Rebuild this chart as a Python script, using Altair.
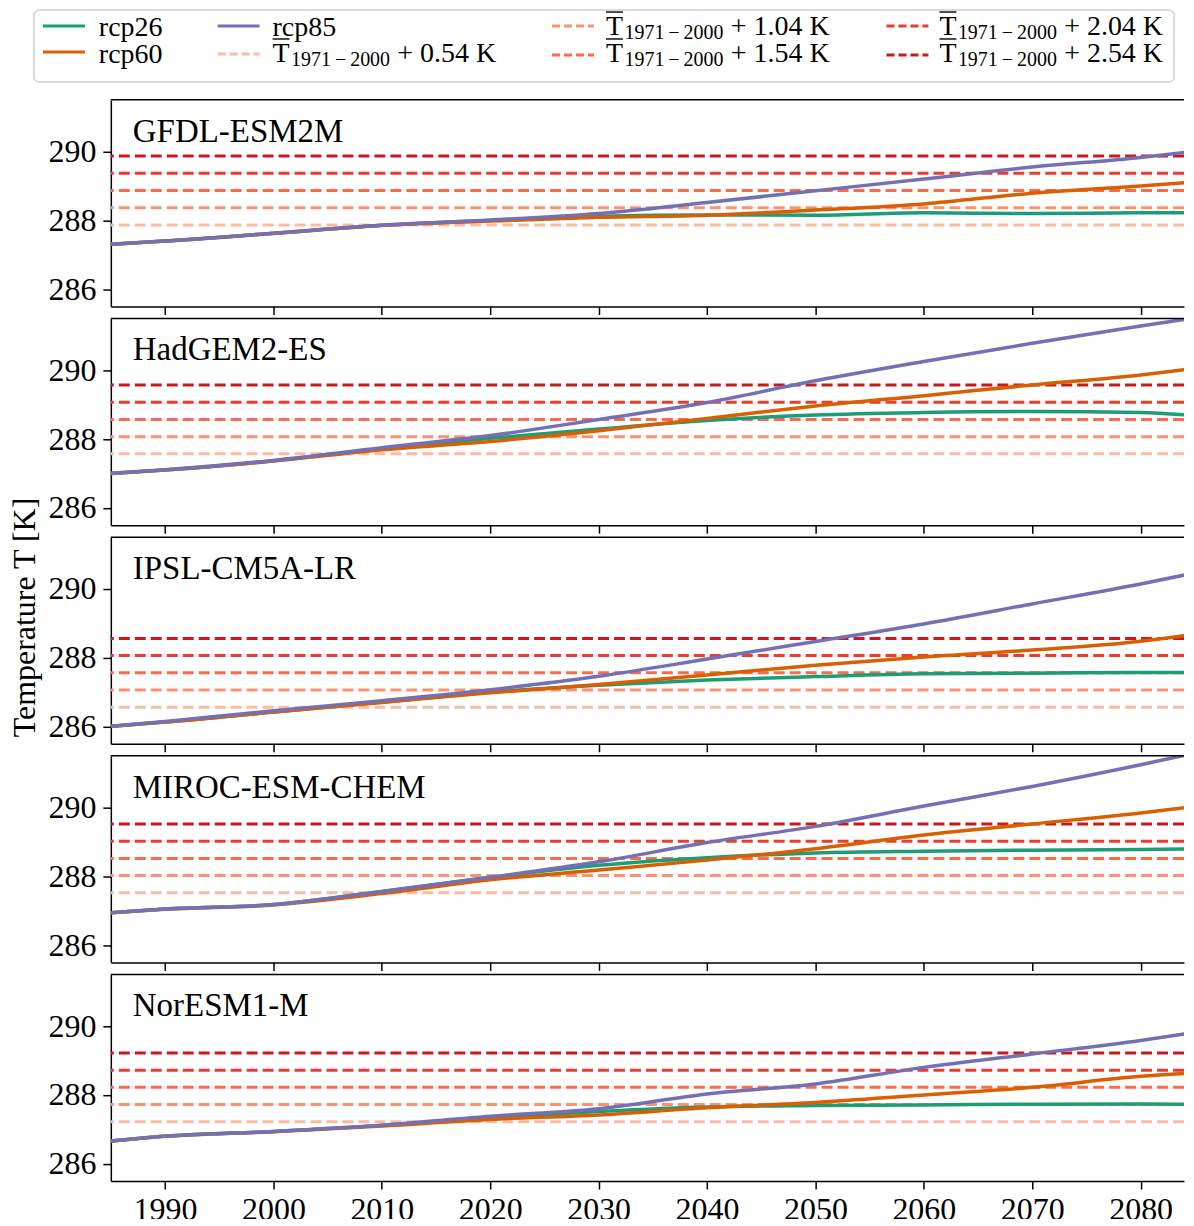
import altair as alt
import pandas as pd

# ---------------- data ----------------
years = [1985, 1990, 2000, 2010, 2020, 2030, 2040, 2050, 2060, 2070, 2080, 2085]
models = ["GFDL-ESM2M", "HadGEM2-ES", "IPSL-CM5A-LR", "MIROC-ESM-CHEM", "NorESM1-M"]
scenarios = ["rcp26", "rcp60", "rcp85"]
scenario_colors = ["#1b9e77", "#d95f02", "#7570b3"]

baseline_1971_2000 = [287.33, 287.03, 286.02, 286.98, 286.68]
offsets = [0.54, 1.04, 1.54, 2.04, 2.54]
offset_labels = ["+ 0.54 K", "+ 1.04 K", "+ 1.54 K", "+ 2.04 K", "+ 2.54 K"]
offset_colors = ["#fcbba1", "#fc9272", "#fb6a4a", "#ef3b2c", "#cb181d"]

gfdl_rcp26 = [287.31, 287.40, 287.63, 287.86, 288.00, 288.12, 288.16, 288.15, 288.22, 288.20, 288.22, 288.22]
gfdl_rcp60 = [287.31, 287.40, 287.62, 287.85, 287.98, 288.09, 288.15, 288.30, 288.48, 288.79, 289.00, 289.12]
gfdl_rcp85 = [287.31, 287.40, 287.63, 287.86, 288.01, 288.20, 288.52, 288.86, 289.20, 289.55, 289.83, 290.01]

hadgem_rcp26 = [287.00, 287.10, 287.37, 287.72, 288.02, 288.29, 288.54, 288.70, 288.77, 288.80, 288.77, 288.68]
hadgem_rcp60 = [287.00, 287.10, 287.36, 287.69, 287.93, 288.24, 288.60, 288.96, 289.26, 289.57, 289.86, 290.05]
hadgem_rcp85 = [287.01, 287.11, 287.38, 287.75, 288.10, 288.57, 289.06, 289.69, 290.25, 290.78, 291.28, 291.52]

ipsl_rcp26 = [286.01, 286.13, 286.42, 286.71, 287.00, 287.20, 287.35, 287.45, 287.53, 287.55, 287.57, 287.57]
ipsl_rcp60 = [286.01, 286.13, 286.42, 286.70, 286.98, 287.22, 287.50, 287.78, 288.02, 288.22, 288.48, 288.68]
ipsl_rcp85 = [286.01, 286.15, 286.46, 286.75, 287.07, 287.46, 287.96, 288.47, 288.98, 289.56, 290.14, 290.46]

miroc_rcp26 = [286.94, 287.05, 287.18, 287.56, 287.97, 288.32, 288.54, 288.68, 288.73, 288.76, 288.78, 288.80]
miroc_rcp60 = [286.94, 287.04, 287.17, 287.50, 287.90, 288.18, 288.47, 288.80, 289.20, 289.52, 289.84, 290.03]
miroc_rcp85 = [286.94, 287.05, 287.18, 287.56, 287.97, 288.42, 288.98, 289.45, 290.04, 290.61, 291.24, 291.58]

noresm_rcp26 = [286.66, 286.80, 286.94, 287.11, 287.34, 287.52, 287.65, 287.69, 287.71, 287.73, 287.74, 287.73]
noresm_rcp60 = [286.66, 286.80, 286.93, 287.10, 287.29, 287.42, 287.63, 287.78, 288.00, 288.22, 288.54, 288.64]
noresm_rcp85 = [286.66, 286.80, 286.94, 287.12, 287.38, 287.60, 288.03, 288.32, 288.80, 289.19, 289.58, 289.82]

series = {
    "GFDL-ESM2M": [gfdl_rcp26, gfdl_rcp60, gfdl_rcp85],
    "HadGEM2-ES": [hadgem_rcp26, hadgem_rcp60, hadgem_rcp85],
    "IPSL-CM5A-LR": [ipsl_rcp26, ipsl_rcp60, ipsl_rcp85],
    "MIROC-ESM-CHEM": [miroc_rcp26, miroc_rcp60, miroc_rcp85],
    "NorESM1-M": [noresm_rcp26, noresm_rcp60, noresm_rcp85],
}

x_ticks = [1990, 2000, 2010, 2020, 2030, 2040, 2050, 2060, 2070, 2080]
y_ticks = [286, 288, 290]

FONT = "Liberation Serif"
PW, PH = 1075, 207

xscale = alt.Scale(domain=[1985, 2084], nice=False, zero=False)
yscale = alt.Scale(domain=[285.5, 291.5], nice=False, zero=False)
one = pd.DataFrame({"k": [0]})


def legend_layers():
    layers = []
    layers.append(
        alt.Chart(one).mark_rect(fill="white", stroke="#cfcfcf", strokeWidth=1.5, cornerRadius=5)
        .encode(x=alt.value(-77), x2=alt.value(1065), y=alt.value(-90), y2=alt.value(-18))
    )
    line_x0 = [-68, 107, 442, 777]
    text_x = [-12, 162, 496, 830]
    handle_y = [[-74, -48], [-74, -46], [-74, -45], [-74, -45]]
    entries = [
        (0, 0, "rcp26", scenario_colors[0], None),
        (0, 1, "rcp60", scenario_colors[1], None),
        (1, 0, "rcp85", scenario_colors[2], None),
        (1, 1, offset_labels[0], offset_colors[0], [8, 4]),
        (2, 0, offset_labels[1], offset_colors[1], [8, 4]),
        (2, 1, offset_labels[2], offset_colors[2], [8, 4]),
        (3, 0, offset_labels[3], offset_colors[3], [8, 4]),
        (3, 1, offset_labels[4], offset_colors[4], [8, 4]),
    ]
    for col, row, label, color, dash in entries:
        kw = dict(color=color, strokeWidth=3)
        if dash:
            kw["strokeDash"] = dash
        layers.append(
            alt.Chart(one).mark_rule(**kw).encode(
                x=alt.value(line_x0[col]), x2=alt.value(line_x0[col] + 42), y=alt.value(handle_y[col][row])
            )
        )
        tx = text_x[col]
        if dash is None:
            base = -64 if row == 0 else -37
            layers.append(
                alt.Chart(pd.DataFrame({"t": [label]})).mark_text(
                    font=FONT, fontSize=28, align="left", baseline="alphabetic", color="black"
                ).encode(text="t:N", x=alt.value(tx), y=alt.value(base))
            )
        else:
            base = -65 if row == 0 else -38
            layers.append(
                alt.Chart(pd.DataFrame({"t": ["T"]})).mark_text(
                    font=FONT, fontSize=28, align="left", baseline="alphabetic", color="black"
                ).encode(text="t:N", x=alt.value(tx), y=alt.value(base))
            )
            layers.append(
                alt.Chart(one).mark_rule(color="black", strokeWidth=1.4).encode(
                    x=alt.value(tx), x2=alt.value(tx + 17), y=alt.value(base - 23)
                )
            )
            layers.append(
                alt.Chart(pd.DataFrame({"t": ["1971\u2009\u2212\u20092000"]})).mark_text(
                    font=FONT, fontSize=20, align="left", baseline="alphabetic", color="black"
                ).encode(text="t:N", x=alt.value(tx + 18.5), y=alt.value(base + 4.5))
            )
            layers.append(
                alt.Chart(pd.DataFrame({"t": [label]})).mark_text(
                    font=FONT, fontSize=28, align="left", baseline="alphabetic", color="black"
                ).encode(text="t:N", x=alt.value(tx + 125), y=alt.value(base))
            )
    return layers


panels = []
for i, m in enumerate(models):
    last = i == len(models) - 1
    xaxis = alt.Axis(values=x_ticks, labels=last, format="d", title=None, labelPadding=6)
    if i == 2:
        yaxis = alt.Axis(values=y_ticks, title="Temperature T [K]", titleX=-76, titleY=80,
                         titleBaseline="alphabetic", labelPadding=7)
    else:
        yaxis = alt.Axis(values=y_ticks, title=None, labelPadding=7)

    thr = pd.DataFrame({
        "level": offset_labels,
        "T": [baseline_1971_2000[i] + o for o in offsets],
    })
    rules = alt.Chart(thr).mark_rule(strokeDash=[11, 5], strokeWidth=3).encode(
        y=alt.Y("T:Q", scale=yscale, axis=yaxis),
        color=alt.Color("level:N", scale=alt.Scale(domain=offset_labels, range=offset_colors), legend=None),
    )
    layers = [rules]
    for s, col, vals in zip(scenarios, scenario_colors, series[m]):
        df = pd.DataFrame({"year": years, "T": vals})
        layers.append(
            alt.Chart(df).mark_line(color=col, strokeWidth=3.5, interpolate="monotone", clip=True).encode(
                x=alt.X("year:Q", scale=xscale, axis=xaxis),
                y=alt.Y("T:Q", scale=yscale, axis=yaxis),
            )
        )
    # top frame line
    layers.append(
        alt.Chart(one).mark_rule(color="black", strokeWidth=1.5).encode(
            x=alt.value(0), x2=alt.value(PW), y=alt.value(0)
        )
    )
    layers.append(
        alt.Chart(pd.DataFrame({"model": [m]})).mark_text(
            font=FONT, fontSize=33, align="left", baseline="alphabetic", color="black"
        ).encode(text="model:N", x=alt.value(22), y=alt.value(42))
    )
    if i == 0:
        layers = legend_layers() + layers
    panels.append(alt.layer(*layers).properties(width=PW, height=PH))

chart = (
    alt.vconcat(*panels, spacing=12, bounds="flush")
    .properties(padding={"left": 0, "top": 0, "right": 0, "bottom": -8}, background="white")
    .configure_view(stroke="transparent", strokeWidth=0)
    .configure_axis(
        labelFont=FONT, labelFontSize=32, labelColor="black",
        tickColor="black", tickWidth=1.5, tickSize=8,
        domain=True, domainColor="black", domainWidth=1.5, grid=False,
        titleFont=FONT, titleFontSize=32, titleFontWeight="normal", titleColor="black",
    )
)

chart.save("out.html", embed_options={"renderer": "svg", "actions": False})
